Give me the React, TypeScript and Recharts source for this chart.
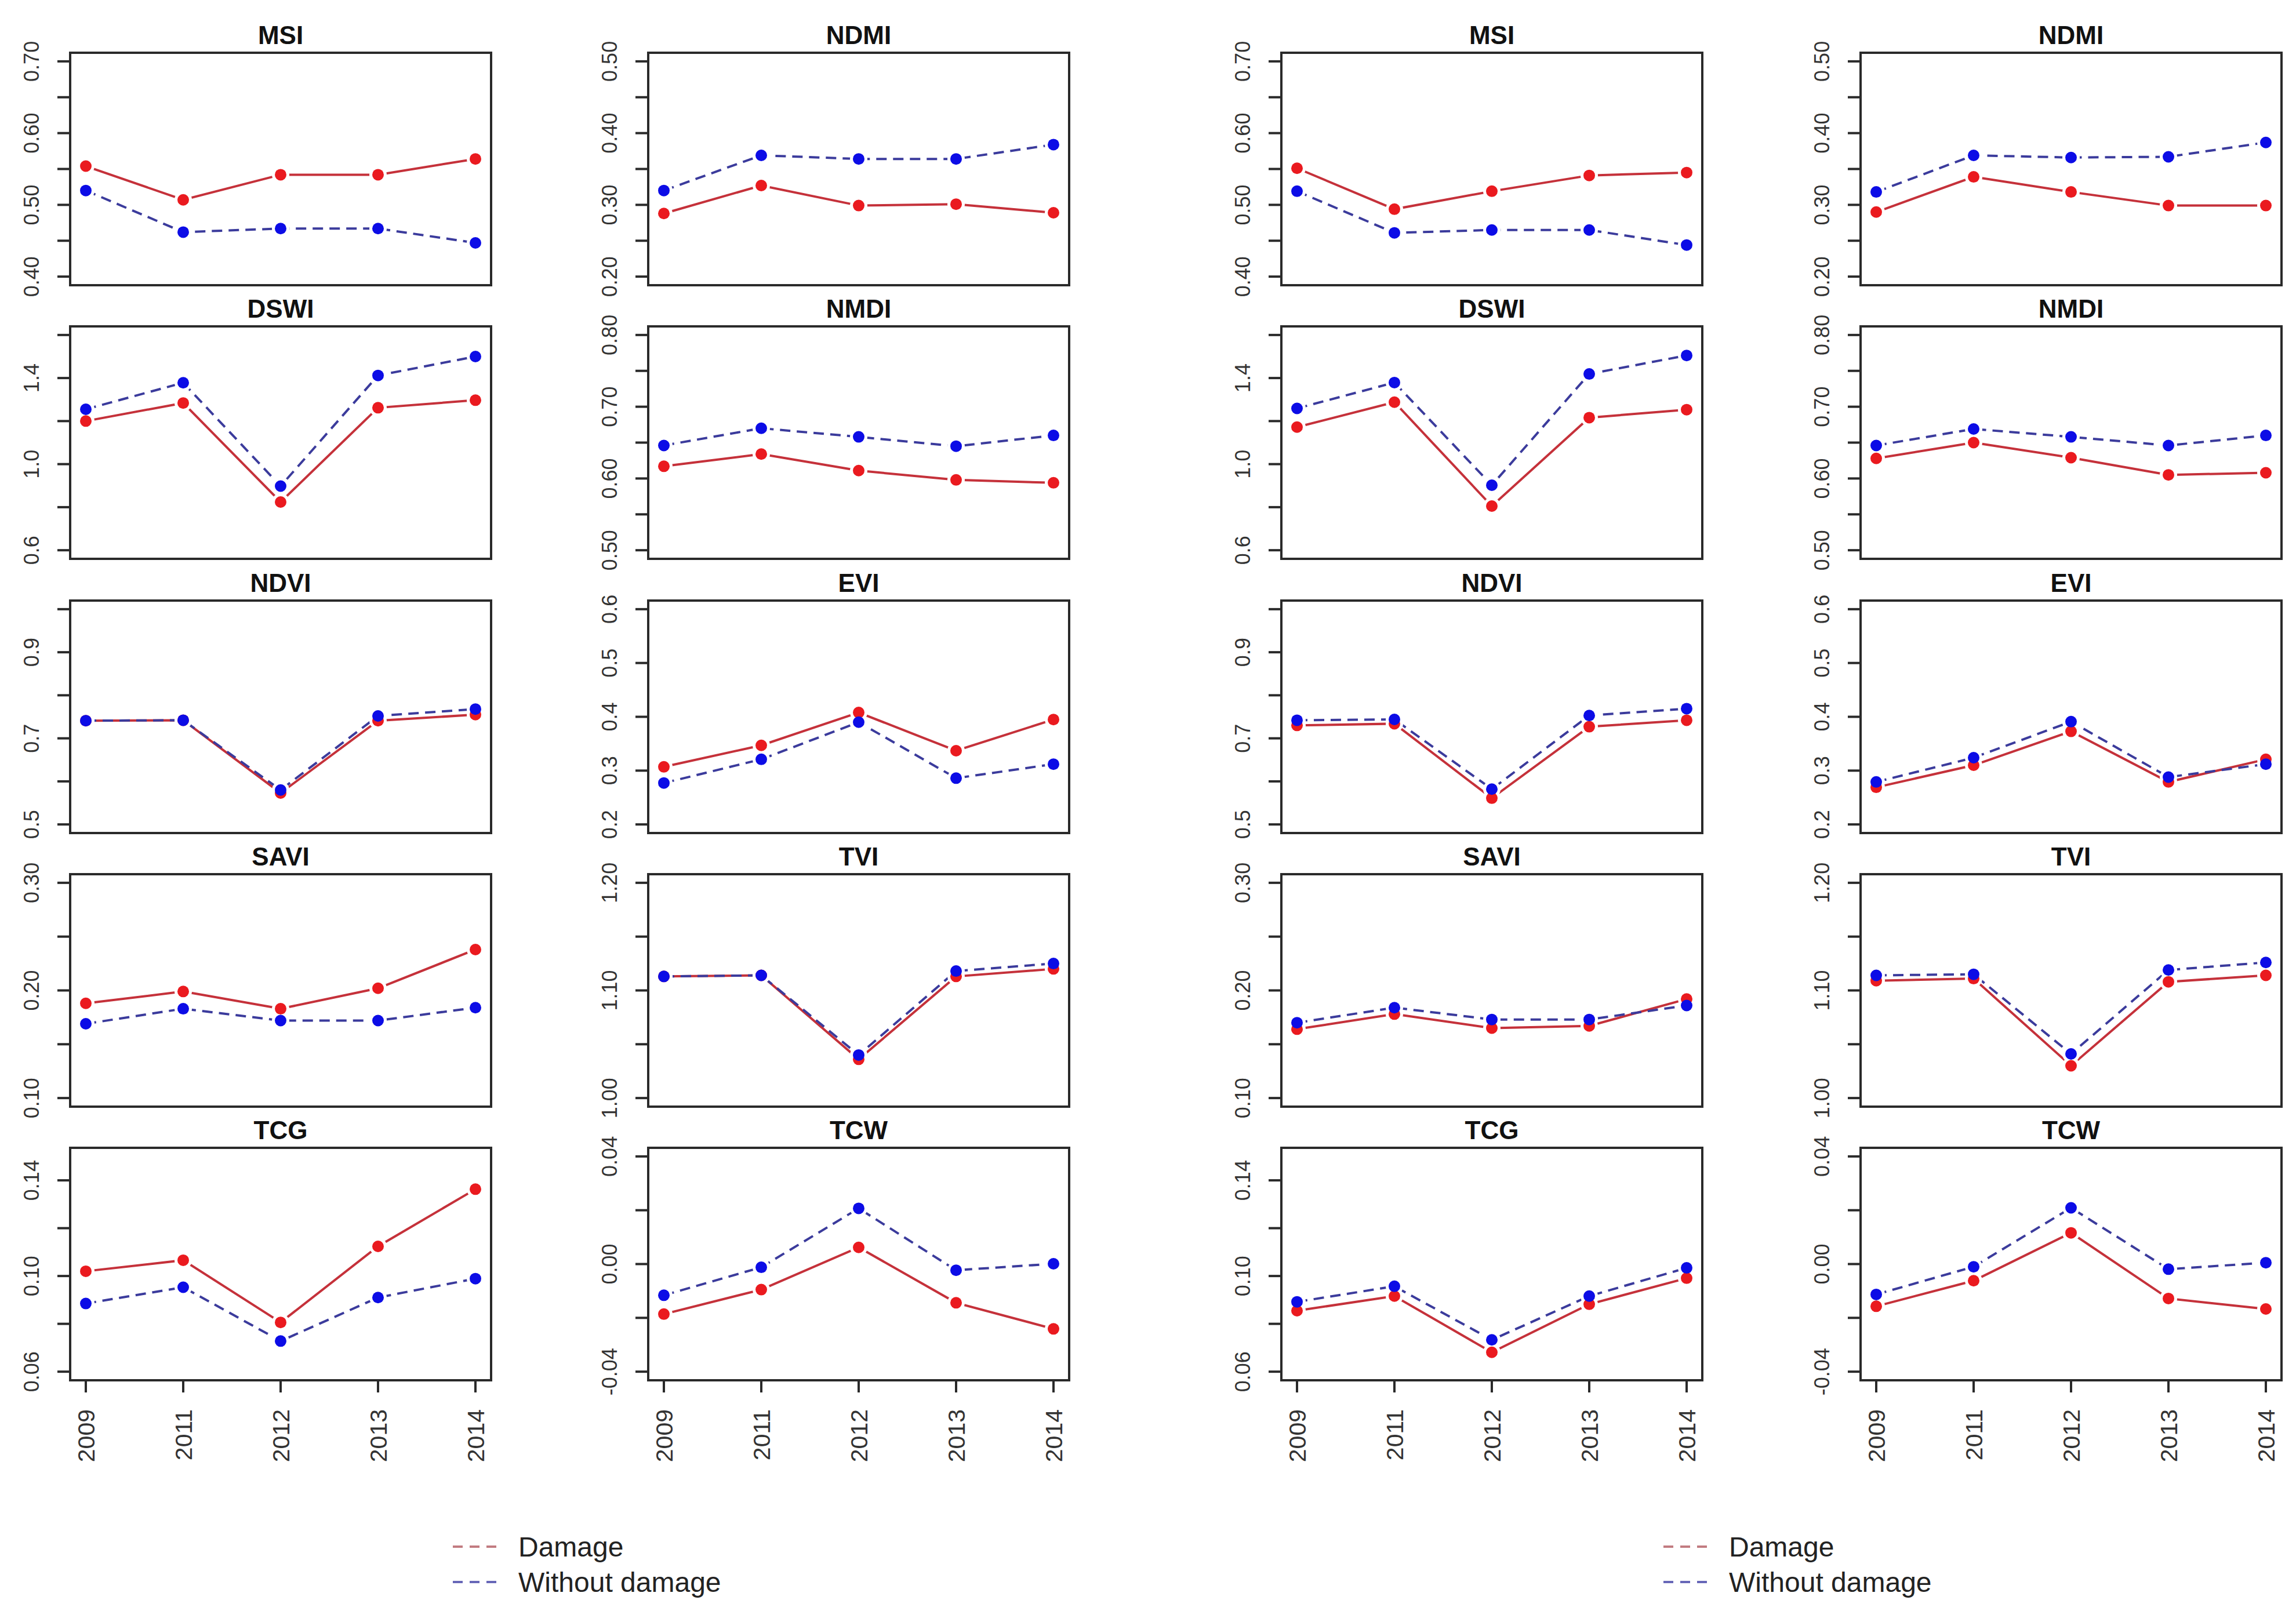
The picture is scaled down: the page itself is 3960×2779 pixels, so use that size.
import React from "react";
import { LineChart, Line, XAxis, YAxis } from "recharts";

/**
 * Two blocks of 5x2 small-multiple panels (spectral indices by year),
 * damaged vs undamaged stands. R-style: boxed panels, rotated tick labels,
 * type="b" lines (gap around each point).
 */

const YEARS = ["2009", "2011", "2012", "2013", "2014"];
const SERIES = ["Damage", "Without damage"];

// ---- left block ----
const msiDamageL = [0.554, 0.507, 0.542, 0.542, 0.564];
const msiHealthyL = [0.52, 0.462, 0.467, 0.467, 0.447];
const ndmiDamageL = [0.288, 0.327, 0.299, 0.301, 0.289];
const ndmiHealthyL = [0.32, 0.369, 0.364, 0.364, 0.384];
const dswiDamageL = [1.2, 1.284, 0.824, 1.262, 1.297];
const dswiHealthyL = [1.255, 1.378, 0.898, 1.412, 1.5];
const nmdiDamageL = [0.617, 0.634, 0.611, 0.598, 0.594];
const nmdiHealthyL = [0.646, 0.67, 0.658, 0.645, 0.66];
const ndviDamageL = [0.741, 0.742, 0.573, 0.741, 0.755];
const ndviHealthyL = [0.741, 0.742, 0.58, 0.752, 0.768];
const eviDamageL = [0.307, 0.347, 0.408, 0.337, 0.395];
const eviHealthyL = [0.277, 0.321, 0.39, 0.286, 0.312];
const saviDamageL = [0.188, 0.199, 0.183, 0.202, 0.238];
const saviHealthyL = [0.169, 0.183, 0.172, 0.172, 0.184];
const tviDamageL = [1.113, 1.114, 1.036, 1.113, 1.12];
const tviHealthyL = [1.113, 1.114, 1.04, 1.118, 1.125];
const tcgDamageL = [0.102, 0.1066, 0.0806, 0.1124, 0.1363];
const tcgHealthyL = [0.0885, 0.0953, 0.0728, 0.091, 0.0989];
const tcwDamageL = [-0.0186, -0.0095, 0.0062, -0.0144, -0.0241];
const tcwHealthyL = [-0.0116, -0.0012, 0.0207, -0.0023, 0.0001];

// ---- right block ----
const msiDamageR = [0.551, 0.494, 0.519, 0.541, 0.545];
const msiHealthyR = [0.519, 0.461, 0.465, 0.465, 0.444];
const ndmiDamageR = [0.29, 0.339, 0.318, 0.299, 0.299];
const ndmiHealthyR = [0.318, 0.369, 0.366, 0.367, 0.387];
const dswiDamageR = [1.172, 1.288, 0.805, 1.216, 1.253];
const dswiHealthyR = [1.259, 1.379, 0.902, 1.419, 1.505];
const nmdiDamageR = [0.628, 0.65, 0.629, 0.605, 0.608];
const nmdiHealthyR = [0.646, 0.669, 0.658, 0.646, 0.66];
const ndviDamageR = [0.73, 0.734, 0.561, 0.727, 0.742];
const ndviHealthyR = [0.742, 0.744, 0.582, 0.753, 0.769];
const eviDamageR = [0.269, 0.31, 0.373, 0.279, 0.321];
const eviHealthyR = [0.279, 0.324, 0.391, 0.288, 0.312];
const saviDamageR = [0.164, 0.178, 0.165, 0.167, 0.192];
const saviHealthyR = [0.17, 0.184, 0.173, 0.173, 0.186];
const tviDamageR = [1.109, 1.111, 1.03, 1.108, 1.114];
const tviHealthyR = [1.114, 1.115, 1.041, 1.119, 1.126];
const tcgDamageR = [0.0855, 0.0916, 0.0681, 0.0882, 0.0991];
const tcgHealthyR = [0.0892, 0.0957, 0.0733, 0.0916, 0.1034];
const tcwDamageR = [-0.0157, -0.0062, 0.0116, -0.0128, -0.0167];
const tcwHealthyR = [-0.0113, -0.001, 0.0209, -0.0019, 0.0005];

// ---- y axes (same in both blocks) ----
const msiTicks = [0.4, 0.45, 0.5, 0.55, 0.6, 0.65, 0.7];
const msiLabels = ["0.40", "", "0.50", "", "0.60", "", "0.70"];
const ndmiTicks = [0.2, 0.25, 0.3, 0.35, 0.4, 0.45, 0.5];
const ndmiLabels = ["0.20", "", "0.30", "", "0.40", "", "0.50"];
const dswiTicks = [0.6, 0.8, 1.0, 1.2, 1.4, 1.6];
const dswiLabels = ["0.6", "", "1.0", "", "1.4", ""];
const nmdiTicks = [0.5, 0.55, 0.6, 0.65, 0.7, 0.75, 0.8];
const nmdiLabels = ["0.50", "", "0.60", "", "0.70", "", "0.80"];
const ndviTicks = [0.5, 0.6, 0.7, 0.8, 0.9, 1.0];
const ndviLabels = ["0.5", "", "0.7", "", "0.9", ""];
const eviTicks = [0.2, 0.3, 0.4, 0.5, 0.6];
const eviLabels = ["0.2", "0.3", "0.4", "0.5", "0.6"];
const saviTicks = [0.1, 0.15, 0.2, 0.25, 0.3];
const saviLabels = ["0.10", "", "0.20", "", "0.30"];
const tviTicks = [1.0, 1.05, 1.1, 1.15, 1.2];
const tviLabels = ["1.00", "", "1.10", "", "1.20"];
const tcgTicks = [0.06, 0.08, 0.1, 0.12, 0.14];
const tcgLabels = ["0.06", "", "0.10", "", "0.14"];
const tcwTicks = [-0.04, -0.02, 0, 0.02, 0.04];
const tcwLabels = ["-0.04", "", "0.00", "", "0.04"];

// ylim before R's 4% expansion
const AXES = [
  { title: "MSI", ticks: msiTicks, labels: msiLabels, lim: [0.4, 0.7] },
  { title: "NDMI", ticks: ndmiTicks, labels: ndmiLabels, lim: [0.2, 0.5] },
  { title: "DSWI", ticks: dswiTicks, labels: dswiLabels, lim: [0.6, 1.6] },
  { title: "NMDI", ticks: nmdiTicks, labels: nmdiLabels, lim: [0.5, 0.8] },
  { title: "NDVI", ticks: ndviTicks, labels: ndviLabels, lim: [0.5, 1.0] },
  { title: "EVI", ticks: eviTicks, labels: eviLabels, lim: [0.2, 0.6] },
  { title: "SAVI", ticks: saviTicks, labels: saviLabels, lim: [0.1, 0.3] },
  { title: "TVI", ticks: tviTicks, labels: tviLabels, lim: [1.0, 1.2] },
  { title: "TCG", ticks: tcgTicks, labels: tcgLabels, lim: [0.06, 0.15] },
  { title: "TCW", ticks: tcwTicks, labels: tcwLabels, lim: [-0.04, 0.04] },
];

const BLOCKS = [
  [
    [msiDamageL, msiHealthyL], [ndmiDamageL, ndmiHealthyL],
    [dswiDamageL, dswiHealthyL], [nmdiDamageL, nmdiHealthyL],
    [ndviDamageL, ndviHealthyL], [eviDamageL, eviHealthyL],
    [saviDamageL, saviHealthyL], [tviDamageL, tviHealthyL],
    [tcgDamageL, tcgHealthyL], [tcwDamageL, tcwHealthyL],
  ],
  [
    [msiDamageR, msiHealthyR], [ndmiDamageR, ndmiHealthyR],
    [dswiDamageR, dswiHealthyR], [nmdiDamageR, nmdiHealthyR],
    [ndviDamageR, ndviHealthyR], [eviDamageR, eviHealthyR],
    [saviDamageR, saviHealthyR], [tviDamageR, tviHealthyR],
    [tcgDamageR, tcgHealthyR], [tcwDamageR, tcwHealthyR],
  ],
];

// layout (px, page coords)
const COL_LEFTS = [
  [121, 1118],
  [2210, 3209],
];
const ROW_TOPS = [91, 563, 1036, 1508, 1980];
const BOX_W = 726;
const BOX_H = 401;
const PAD_L = 110;
const PAD_R = 20;
const PAD_T = 70;
const PAD_B = 160; // bottom row: room for the rotated years
const PAD_GAP = 50; // other rows: room for the lowest y label
const LEGEND_X = [781, 2869];
const LEGEND_Y = [2668, 2729];

const FONT = "'Liberation Sans', Arial, Helvetica, sans-serif";
const FRAME = "#2a2a2a";
const TEXT = "#333";
const RED_PT = "#ea1a1f";
const BLUE_PT = "#0c0ce6";
const RED_LINE = "#c5313a";
const BLUE_LINE = "#3b3b9c";
const RED_LEG = "#c27b80";
const BLUE_LEG = "#6767b8";

function YTick(props: any) {
  const { y, payload, ticks, labels } = props;
  const i = ticks.findIndex((t: number) => Math.abs(t - payload.value) < 1e-9);
  const text = i >= 0 ? labels[i] : "";
  const bx = PAD_L - 54;
  return (
    <text
      x={bx}
      y={y}
      transform={`rotate(-90 ${bx} ${y})`}
      textAnchor="middle"
      fontSize={36}
      fontFamily={FONT}
      fill={TEXT}
    >
      {text}
    </text>
  );
}

function XTick(props: any) {
  const { x, payload } = props;
  const bx = x + 15;
  const by = PAD_T + BOX_H + 50;
  return (
    <text
      x={bx}
      y={by}
      transform={`rotate(-90 ${bx} ${by})`}
      textAnchor="end"
      fontSize={41}
      fontFamily={FONT}
      fill={TEXT}
    >
      {payload.value}
    </text>
  );
}

function Panel({ axis, damage, healthy, left, top, bottom }: any) {
  const data = YEARS.map((year, i) => ({ year, damage: damage[i], healthy: healthy[i] }));
  const span = axis.lim[1] - axis.lim[0];
  const domain = [axis.lim[0] - 0.04 * span, axis.lim[1] + 0.04 * span];
  const w = PAD_L + BOX_W + PAD_R;
  const below = bottom ? PAD_B : PAD_GAP;
  const h = PAD_T + BOX_H + below;
  const tickLine = { stroke: FRAME, strokeWidth: 4 };

  return (
    <div style={{ position: "absolute", left: left - PAD_L, top: top - PAD_T, width: w, height: h }}>
      <div
        style={{
          position: "absolute",
          left: PAD_L,
          top: PAD_T - 52,
          width: BOX_W,
          textAlign: "center",
          fontFamily: FONT,
          fontWeight: 700,
          fontSize: 44,
          lineHeight: "44px",
          color: "#111",
        }}
      >
        {axis.title}
      </div>
      <LineChart
        width={w}
        height={h}
        data={data}
        margin={{ top: PAD_T, right: PAD_R, bottom: bottom ? 0 : PAD_GAP, left: 0 }}
      >
        <XAxis
          dataKey="year"
          type="category"
          scale="point"
          padding={{ left: 27, right: 27 }}
          hide={!bottom}
          height={PAD_B}
          axisLine={false}
          tickLine={tickLine}
          tickSize={21}
          interval={0}
          tick={(p: any) => <XTick {...p} />}
        />
        <YAxis
          type="number"
          domain={domain}
          ticks={axis.ticks}
          allowDataOverflow
          width={PAD_L}
          axisLine={false}
          tickLine={tickLine}
          tickSize={22}
          interval={0}
          tick={(p: any) => <YTick {...p} ticks={axis.ticks} labels={axis.labels} />}
        />
        {/* connecting lines */}
        <Line dataKey="damage" stroke={RED_LINE} strokeWidth={4} dot={false} activeDot={false} isAnimationActive={false} />
        <Line
          dataKey="healthy"
          stroke={BLUE_LINE}
          strokeWidth={4}
          strokeDasharray="18 11"
          dot={false}
          activeDot={false}
          isAnimationActive={false}
        />
        {/* white gaps round the points, like type="b" */}
        <Line dataKey="damage" stroke="none" dot={{ r: 15, fill: "#fff", stroke: "none" }} activeDot={false} isAnimationActive={false} />
        <Line dataKey="healthy" stroke="none" dot={{ r: 15, fill: "#fff", stroke: "none" }} activeDot={false} isAnimationActive={false} />
        {/* points */}
        <Line dataKey="damage" stroke="none" dot={{ r: 10, fill: RED_PT, stroke: "none" }} activeDot={false} isAnimationActive={false} />
        <Line dataKey="healthy" stroke="none" dot={{ r: 10, fill: BLUE_PT, stroke: "none" }} activeDot={false} isAnimationActive={false} />
      </LineChart>
      <div
        style={{
          position: "absolute",
          left: PAD_L - 2,
          top: PAD_T - 2,
          width: BOX_W + 4,
          height: BOX_H + 4,
          border: `4px solid ${FRAME}`,
          boxSizing: "border-box",
          pointerEvents: "none",
        }}
      />
    </div>
  );
}

function Legend({ x }: { x: number }) {
  const colors = [RED_LEG, BLUE_LEG];
  return (
    <svg style={{ position: "absolute", left: x, top: LEGEND_Y[0] - 40, overflow: "visible" }} width={620} height={140}>
      {SERIES.map((name, i) => {
        const y = LEGEND_Y[i] - (LEGEND_Y[0] - 40);
        return (
          <g key={name}>
            <line x1={0} x2={76} y1={y} y2={y} stroke={colors[i]} strokeWidth={4} strokeDasharray="17 12" />
            <text x={113} y={y + 17} fontSize={48} fontFamily={FONT} fill="#222">
              {name}
            </text>
          </g>
        );
      })}
    </svg>
  );
}

export default function App() {
  return (
    <div style={{ position: "absolute", left: 0, top: 0, width: 3960, height: 2779, background: "#fff", overflow: "hidden" }}>
      {BLOCKS.map((block, b) =>
        block.map(([damage, healthy], i) => (
          <Panel
            key={`${b}-${i}`}
            axis={AXES[i]}
            damage={damage}
            healthy={healthy}
            left={COL_LEFTS[b][i % 2]}
            top={ROW_TOPS[Math.floor(i / 2)]}
            bottom={Math.floor(i / 2) === ROW_TOPS.length - 1}
          />
        ))
      )}
      {LEGEND_X.map((x) => (
        <Legend key={x} x={x} />
      ))}
    </div>
  );
}
